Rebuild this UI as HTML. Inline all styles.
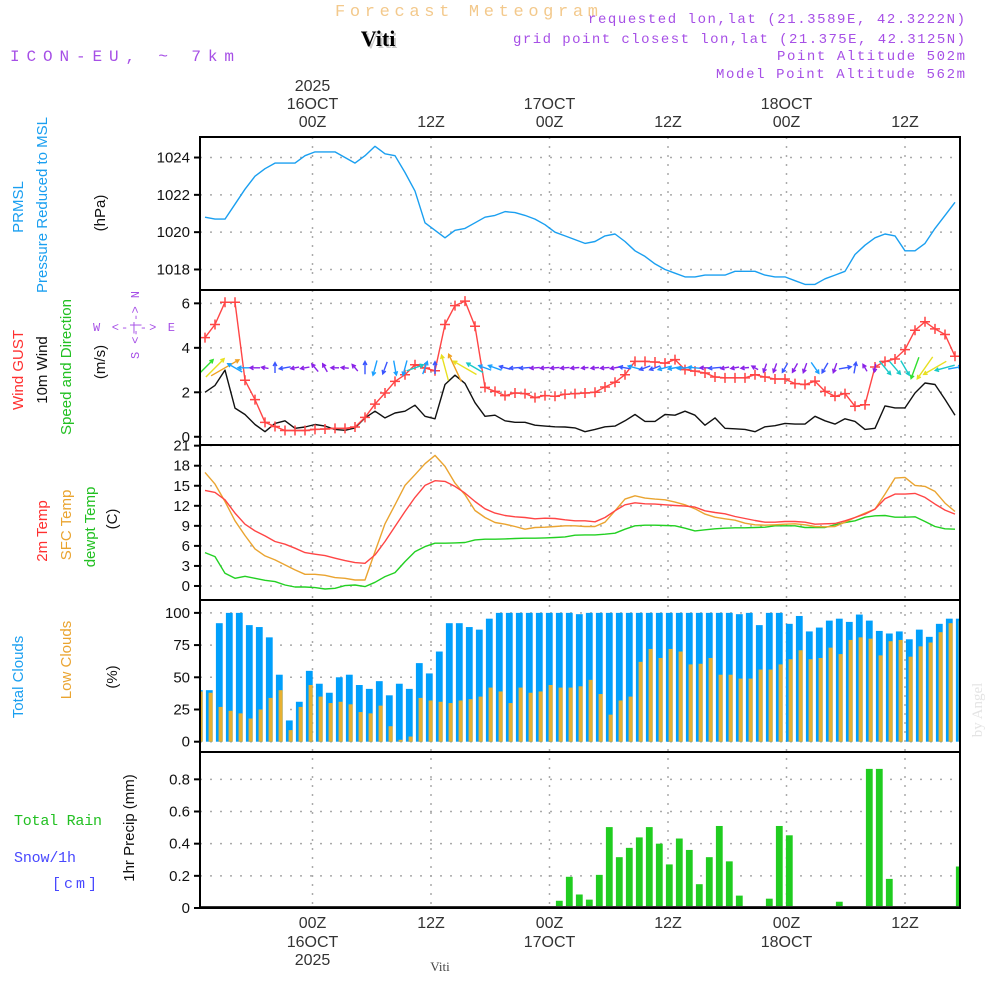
<!DOCTYPE html>
<html><head><meta charset="utf-8"><title>Meteogram Viti</title>
<style>
html,body{margin:0;padding:0;background:#fff;}
svg{display:block;font-family:"Liberation Sans",sans-serif;}
.mono{font-family:"Liberation Mono",monospace;}
</style></head>
<body>
<svg id="chart" width="1000" height="1000" viewBox="0 0 1000 1000" xmlns="http://www.w3.org/2000/svg">
<rect x="0" y="0" width="1000" height="1000" fill="#fff"/>
<text class="mono" x="335" y="16" font-size="17" fill="#f3c98c" textLength="263" lengthAdjust="spacing">Forecast Meteogram</text>
<text x="380" y="48" text-anchor="middle" font-size="22" font-weight="bold" font-family="Liberation Serif,serif" fill="#ccc">Viti</text>
<text x="378" y="46" text-anchor="middle" font-size="22" font-weight="bold" font-family="Liberation Serif,serif" fill="#000">Viti</text>
<text class="mono" x="10" y="61" font-size="16" fill="#a64fe6" textLength="224" lengthAdjust="spacing">ICON-EU, ~ 7km</text>
<g class="mono" font-size="14" fill="#a64fe6">
<text x="588" y="23" textLength="377" lengthAdjust="spacing">requested lon,lat (21.3589E, 42.3222N)</text>
<text x="513" y="43" textLength="452" lengthAdjust="spacing">grid point closest lon,lat (21.375E, 42.3125N)</text>
<text x="777" y="60" textLength="188" lengthAdjust="spacing">Point Altitude 502m</text>
<text x="716" y="78" textLength="249" lengthAdjust="spacing">Model Point Altitude 562m</text>
</g>
<g id="grid"></g>
<g id="data"></g>
<g id="frame"></g>
<g id="labels"></g>
<text x="0" y="0" transform="translate(982,710) rotate(-90)" text-anchor="middle" font-size="15" font-family="Liberation Serif,serif" fill="#e4e4e4">by Angel</text>
<text x="440" y="971" text-anchor="middle" font-size="13" font-family="Liberation Serif,serif" fill="#444">Viti</text>
</svg>
<script>
const pressure=[1020.8,1020.7,1020.7,1021.5,1022.3,1023.0,1023.4,1023.7,1023.7,1023.7,1024.1,1024.3,1024.3,1024.3,1024.0,1023.7,1024.1,1024.6,1024.2,1024.1,1023.2,1022.2,1020.5,1020.1,1019.7,1020.1,1020.2,1020.5,1020.8,1020.9,1021.1,1021.05,1020.9,1020.7,1020.4,1020.0,1019.8,1019.6,1019.4,1019.5,1019.8,1019.9,1019.5,1019.0,1018.7,1018.3,1018.0,1017.8,1017.6,1017.6,1017.7,1017.7,1017.7,1017.9,1017.9,1017.9,1017.7,1017.6,1017.6,1017.4,1017.2,1017.2,1017.5,1017.7,1017.9,1018.8,1019.3,1019.7,1019.9,1019.8,1019.0,1019.0,1019.4,1020.2,1020.9,1021.6];
const gust=[4.46,5.05,6.05,6.05,2.54,1.67,0.65,0.46,0.28,0.28,0.28,0.33,0.35,0.38,0.38,0.44,0.87,1.47,1.97,2.49,2.79,3.24,3.09,2.97,5.05,5.9,6.1,4.97,2.22,2.04,1.85,1.97,1.94,1.76,1.85,1.82,1.91,1.94,1.97,2.0,2.24,2.45,2.79,3.39,3.39,3.36,3.31,3.47,3.02,2.95,2.87,2.69,2.65,2.65,2.65,2.79,2.69,2.6,2.6,2.39,2.35,2.5,2.04,1.82,1.94,1.37,1.44,3.14,3.39,3.5,3.92,4.79,5.17,4.85,4.6,3.62];
const wind10=[2.0,2.31,3.0,1.29,1.0,0.55,0.23,0.6,0.72,0.38,0.44,0.55,0.48,0.33,0.29,0.4,0.85,1.15,0.85,1.07,1.15,1.42,0.92,0.81,2.35,2.77,2.4,1.53,0.92,0.97,0.72,0.65,0.65,0.52,0.48,0.45,0.44,0.4,0.23,0.33,0.45,0.48,0.72,1.0,0.69,0.69,1.0,0.97,1.15,0.97,0.52,0.85,0.38,0.36,0.33,0.23,0.45,0.5,0.6,0.57,0.57,0.92,0.72,0.57,0.81,0.69,0.33,0.38,1.39,1.3,1.3,1.97,2.42,2.35,1.68,0.97];
const windDir=[45,45,60,300,270,270,280,0,260,260,260,320,330,270,275,320,0,195,200,170,195,70,20,0,345,335,300,300,290,290,285,265,265,265,265,265,265,265,265,265,265,260,280,285,250,250,255,260,265,275,270,265,260,260,265,300,200,200,210,210,200,145,210,200,80,10,330,190,140,140,150,200,215,240,255,80];
const temp2m=[14.3,14.0,12.9,10.9,9.25,8.25,7.5,6.65,6.25,5.65,5.0,4.75,4.55,4.15,3.8,3.5,3.4,4.65,6.65,8.9,11.15,13.25,15.05,15.75,15.65,14.9,13.9,12.65,11.55,10.9,10.55,10.35,10.25,10.05,10.15,10.1,9.9,9.75,9.75,9.6,10.25,11.25,12.15,12.45,12.3,12.25,12.15,12.05,11.95,11.8,11.25,11.0,10.8,10.4,10.1,9.8,9.55,9.55,9.65,9.65,9.55,9.25,9.3,9.35,9.75,10.25,10.75,11.5,13.05,13.75,13.75,13.85,13.25,12.25,11.35,10.75];
const tempSfc=[17.0,15.25,12.65,9.75,7.55,5.55,4.5,3.9,3.15,2.4,1.75,1.75,1.6,1.25,1.15,0.9,0.9,5.15,9.3,12.15,15.05,16.65,18.3,19.55,17.9,15.4,13.65,11.3,10.25,9.5,9.25,8.9,8.5,8.75,8.8,8.9,9.0,9.0,8.9,8.9,9.55,11.25,13.0,13.5,13.15,13.0,12.9,12.55,12.15,11.55,10.75,10.3,10.05,9.85,9.4,9.15,9.1,9.15,9.25,9.3,9.15,8.9,8.85,8.9,9.55,10.25,10.9,11.5,13.75,16.15,16.25,15.05,14.9,14.15,12.4,11.15];
const dewpt=[5.0,4.4,1.9,1.15,1.45,1.15,0.85,0.65,0.15,-0.15,-0.15,-0.25,-0.45,-0.35,0.05,0.15,-0.1,0.55,1.4,2.0,3.65,5.15,5.9,6.4,6.4,6.45,6.5,6.9,7.0,7.0,7.05,7.1,7.15,7.15,7.2,7.25,7.35,7.6,7.65,7.65,7.75,7.9,8.5,9.0,9.1,9.1,9.05,9.0,8.65,8.25,8.4,8.55,8.65,8.7,8.7,8.75,8.8,9.0,9.0,9.0,8.75,8.75,8.75,9.15,9.5,9.75,10.3,10.5,10.55,10.3,10.3,10.35,9.65,8.9,8.55,8.5];
const totalClouds=[40,40,92,100,100,90.5,89,81,52,16.5,31,55,45,38,50,52,44,41,47,36,45,41,61,53,70,92,92,89,87,95.5,100,100,100,100,100,100,100,100,99,100,100,100,100,100,100,100,100,100,100,100,100,100,100,100,99,100,90.5,100,100,91.5,97.6,85.6,88.6,94,95.5,93,98.7,94,86,84,85.6,79.5,87,81.4,91.5,95.5,95.5];
const lowClouds=[39,38,27,24,22,18,25,34,40,9,27,44,35,30,31,29,23,22,28,12,1.5,4,34,32,31,30,32,33,35,42,39,30,42,38,39,44,42,42,43,48,37,21,32,35,62,72,65,72,70,60,60.5,65,52,52,49,49,56,56,60,64,71,64,65,73,68,79,81,80,67,78,79,66,74,77,85,92,94];
const precip=[0,0,0,0,0,0,0,0,0,0,0,0,0,0,0,0,0,0,0,0,0,0,0,0,0,0,0,0,0,0,0,0,0,0,0,0,0.045,0.194,0.084,0.052,0.206,0.503,0.316,0.374,0.439,0.503,0.4,0.271,0.432,0.361,0.148,0.316,0.51,0.29,0.077,0,0,0.058,0.51,0.452,0,0,0,0,0.039,0,0.006,0.865,0.865,0.181,0,0,0,0,0,0,0.258];
const timeTickHours=[0,12,24,36,48,60];
const timeTickHourLabels=["00Z","12Z","00Z","12Z","00Z","12Z"];
const timeTickDayLabels=["16OCT","","17OCT","","18OCT",""];
const pressureTicks=[1018,1020,1022,1024];
const windTicks=[0,2,4,6];
const tempTicks=[0,3,6,9,12,15,18,21];
const cloudTicks=[0,25,50,75,100];
const precipTicks=[0,0.2,0.4,0.6,0.8];

const NS="http://www.w3.org/2000/svg";
const X0=200,X1=960;
const P={pres:{t:137,b:290,min:1016.9,max:1025.1},wind:{t:290,b:445,min:-0.37,max:6.6},
 temp:{t:445,b:600,min:-2.1,max:21.1},cloud:{t:600,b:752,min:-8,max:110},precip:{t:752,b:908,min:0,max:0.97}};
function yS(p,v){const a=P[p];return a.b-(v-a.min)/(a.max-a.min)*(a.b-a.t);}
function xT(h){return 312.5+h*9.875;}
function xL(i){return 205+10*i;}
function xB(i){return 199.3+10*i;}
function mk(tag,attrs,parent){const e=document.createElementNS(NS,tag);for(const k in attrs)e.setAttribute(k,attrs[k]);parent.appendChild(e);return e;}
const grid=document.getElementById('grid'),data=document.getElementById('data'),frame=document.getElementById('frame'),labels=document.getElementById('labels');
const defs=mk('defs',{},document.getElementById('chart'));
const cp=mk('clipPath',{id:'plotclip'},defs);mk('rect',{x:X0,y:137,width:X1-X0,height:771},cp);
data.setAttribute('clip-path','url(#plotclip)');

timeTickHours.forEach((h,k)=>{
  const l=mk('line',{x1:xT(h),x2:xT(h),y1:137,y2:908,stroke:'#aaa','stroke-width':1.5,'stroke-dasharray':'2,7'},grid);
  
  
  const t1=mk('text',{x:xT(h),y:127,'text-anchor':'middle','font-size':16,fill:'#333'},labels);t1.textContent=timeTickHourLabels[k];
  
  
  if(timeTickDayLabels[k]){const t2=mk('text',{x:xT(h),y:109,'text-anchor':'middle','font-size':16,fill:'#333'},labels);t2.textContent=timeTickDayLabels[k];
    
    
    const t4=mk('text',{x:xT(h),y:947,'text-anchor':'middle','font-size':16,fill:'#333'},labels);t4.textContent=timeTickDayLabels[k];
    
    }
  const t3=mk('text',{x:xT(h),y:928,'text-anchor':'middle','font-size':16,fill:'#333'},labels);t3.textContent=timeTickHourLabels[k];
  
  
});
[[91,'year-top'],[965,'year-bottom']].forEach(([y,n])=>{const t=mk('text',{x:xT(0),y:y,'text-anchor':'middle','font-size':16,fill:'#333'},labels);t.textContent='2025';
  
  });

function yAxis(p,ticks,fmt){
  ticks.forEach(v=>{const y=yS(p,v);
    const g=mk('line',{x1:X0,x2:X1,y1:y,y2:y,stroke:'#aaa','stroke-width':1.5,'stroke-dasharray':'2,8'},grid);
    
    
    const tk=mk('line',{x1:X0-6,x2:X0,y1:y,y2:y,stroke:'#000','stroke-width':2},frame);
    
    
    const t=mk('text',{x:X0-10,y:y+5,'text-anchor':'end','font-size':15,fill:'#111'},labels);t.textContent=fmt(v);
    
    });
}
yAxis('pres',pressureTicks,v=>v);yAxis('wind',windTicks,v=>v);yAxis('temp',tempTicks,v=>v);
yAxis('cloud',cloudTicks,v=>v);yAxis('precip',precipTicks,v=>v===0?'0':v.toFixed(1));

function line(arr,p,color,name,w){
  const d=arr.map((v,i)=>(i?'L':'M')+xL(i).toFixed(1)+','+yS(p,v).toFixed(1)).join('');
  const e=mk('path',{d:d,fill:'none',stroke:color,'stroke-width':w||1.4,'stroke-linejoin':'round'},data);
  
  
}
line(pressure,'pres','#1a9ff0','pressure-line');
line(wind10,'wind','#111','wind-speed-line');
line(gust,'wind','#ff4545','wind-gust-line');
gust.forEach((v,i)=>{const x=xL(i),y=yS('wind',v);
  const c=mk('path',{d:`M${x-5},${y}H${x+5}M${x},${y-5}V${y+5}`,stroke:'#ff4545','stroke-width':1.5},data);
  
  });
function spdColor(s){return s<0.6?'#8a22e8':s<0.9?'#3a55ff':s<1.3?'#1aa0ff':s<1.7?'#18c8c8':s<2.1?'#30e030':s<2.5?'#e8e020':'#f0a020';}
windDir.forEach((dg,i)=>{const s=wind10[i],L=5+s*9,a=dg*Math.PI/180;
  const dx=Math.sin(a)*L,dy=-Math.cos(a)*L,cx=xL(i),cy=yS('wind',3.1);
  const x1=cx-dx/2,y1=cy-dy/2,x2=cx+dx/2,y2=cy+dy/2;
  const h=4,b1=a+Math.PI-0.5,b2=a+Math.PI+0.5;
  const d=`M${x1.toFixed(1)},${y1.toFixed(1)}L${x2.toFixed(1)},${y2.toFixed(1)}M${(x2+Math.sin(b1)*h).toFixed(1)},${(y2-Math.cos(b1)*h).toFixed(1)}L${x2.toFixed(1)},${y2.toFixed(1)}L${(x2+Math.sin(b2)*h).toFixed(1)},${(y2-Math.cos(b2)*h).toFixed(1)}`;
  const e=mk('path',{d:d,fill:'none',stroke:spdColor(s),'stroke-width':1.4},data);
  
  });
line(dewpt,'temp','#22d022','dewpoint-line');
line(tempSfc,'temp','#eaa430','surface-temp-line');
line(temp2m,'temp','#ff4545','temp-2m-line');
totalClouds.forEach((v,i)=>{const y=yS('cloud',v),y0=yS('cloud',0);
  const r=mk('rect',{x:xB(i)-3.4,y:y,width:6.8,height:y0-y,fill:'#009ffb'},data);
  
  });
lowClouds.forEach((v,i)=>{const y=yS('cloud',v),y0=yS('cloud',0);
  const r=mk('rect',{x:xB(i)-0.7,y:y,width:4,height:y0-y,fill:'#e8b030'},data);
  
  });
precip.forEach((v,i)=>{if(v<=0)return;const y=yS('precip',v),y0=yS('precip',0);
  const r=mk('rect',{x:xB(i)-3.4,y:y,width:6.8,height:y0-y,fill:'#20cc20'},data);
  
  });
const zl=mk('line',{x1:X0,x2:X1,y1:907,y2:907,stroke:'#333','stroke-width':2},data);



['pres','wind','temp','cloud','precip'].forEach(p=>{const a=P[p];
  const r=mk('rect',{x:X0,y:a.t,width:X1-X0,height:a.b-a.t,fill:'none',stroke:'#000','stroke-width':2},frame);
  
  });

function vlab(txt,x,y,color,name,size,len,cls){const at={x:0,y:0,transform:`translate(${x},${y}) rotate(-90)`,'text-anchor':'middle','font-size':size||15,fill:color};
  if(len){at.textLength=len;at.lengthAdjust='spacing';}
  if(cls)at['class']=cls;
  const t=mk('text',at,labels);t.textContent=txt;
  
  }
vlab('PRMSL',23,207,'#1a9ff0','prmsl-title');
vlab('Pressure Reduced to MSL',47,205,'#1a9ff0','pressure-title');
vlab('(hPa)',105,213,'#111','pressure-unit');
vlab('Wind GUST',23,370,'#ff3030','gust-title');
vlab('10m Wind',47,370,'#111','wind-title');
vlab('Speed and Direction',71,367,'#22c022','direction-title');
vlab('(m/s)',105,362,'#111','wind-unit');
vlab('S <-|-> N',139,325,'#a64fe6','compass-ns',12,68,'mono');
const cw=mk('text',{'class':'mono',x:93,y:331,'font-size':12,fill:'#a64fe6',textLength:82,lengthAdjust:'spacing'},labels);cw.textContent='W <-|-> E';


vlab('2m Temp',47,531,'#ff3030','temp2m-title');
vlab('SFC Temp',71,525,'#eaa430','sfc-temp-title');
vlab('dewpt Temp',95,527,'#22c022','dewpt-title');
vlab('(C)',117,519,'#111','temp-unit');
vlab('Total Clouds',23,677,'#1a9ff0','total-clouds-title');
vlab('Low Clouds',71,660,'#eaa430','low-clouds-title');
vlab('(%)',117,677,'#111','cloud-unit');
vlab('1hr Precip (mm)',134,828,'#111','precip-title');
[['Total  Rain',14,825,'#22c022','rain-legend',88],['Snow/1h',14,862,'#4848ff','snow-legend',62],['[cm]',52,888,'#4848ff','snow-unit',45]].forEach(([s,x,y,c,n,len])=>{
  const t=mk('text',{'class':'mono',x:x,y:y,'font-size':15,fill:c,textLength:len,lengthAdjust:'spacing','xml:space':'preserve'},labels);t.textContent=s;
  
  });
</script>
</body></html>
